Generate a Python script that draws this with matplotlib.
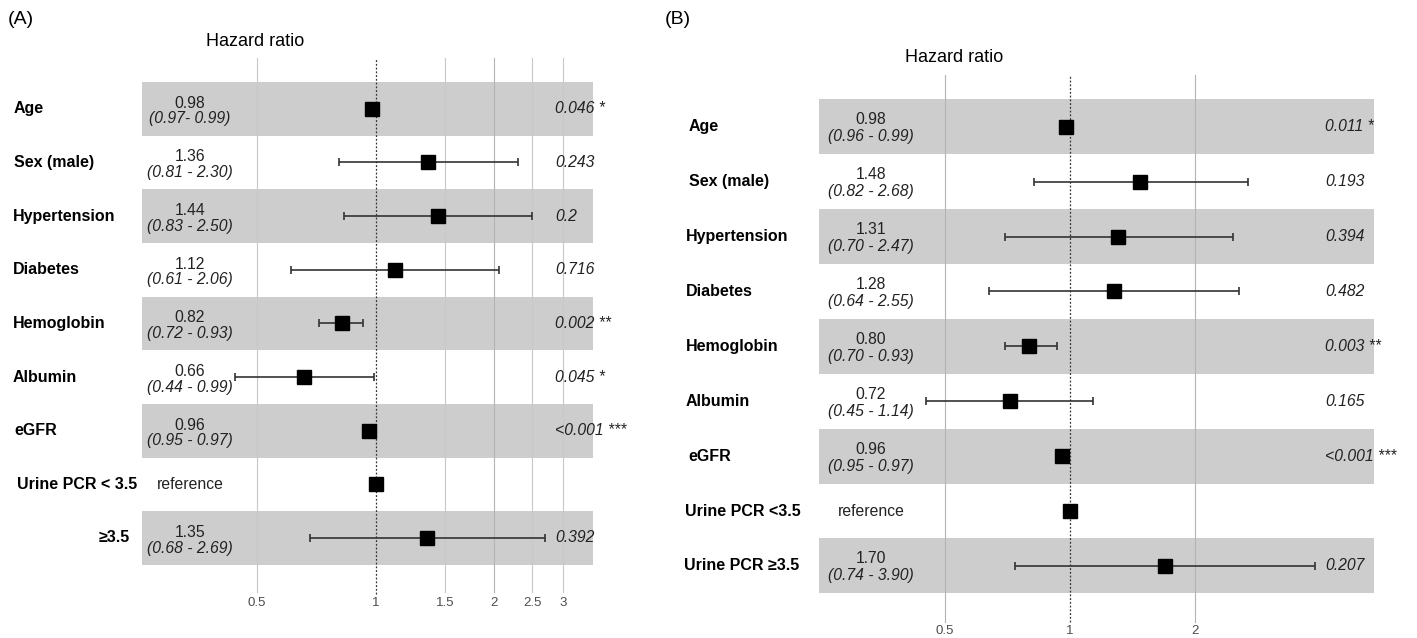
import numpy as np
import matplotlib
matplotlib.use('Agg')
import matplotlib.pyplot as plt

plt.rcParams['font.family'] = ['Liberation Sans', 'DejaVu Sans']

# ==================== data ====================
labels_a = ['Age', 'Sex (male)', 'Hypertension', 'Diabetes', 'Hemoglobin',
            'Albumin', 'eGFR', 'Urine PCR < 3.5', '≥3.5']
hr_a = [0.98, 1.36, 1.44, 1.12, 0.82, 0.66, 0.96, 1.00, 1.35]
lo_a = [0.97, 0.81, 0.83, 0.61, 0.72, 0.44, 0.95, np.nan, 0.68]
hi_a = [0.99, 2.30, 2.50, 2.06, 0.93, 0.99, 0.97, np.nan, 2.69]
ci_a = ['(0.97- 0.99)', '(0.81 - 2.30)', '(0.83 - 2.50)', '(0.61 - 2.06)',
        '(0.72 - 0.93)', '(0.44 - 0.99)', '(0.95 - 0.97)', '', '(0.68 - 2.69)']
p_a = ['0.046 *', '0.243', '0.2', '0.716', '0.002 **', '0.045 *',
       '<0.001 ***', '', '0.392']
ticks_a = [0.5, 1, 1.5, 2, 2.5, 3]

labels_b = ['Age', 'Sex (male)', 'Hypertension', 'Diabetes', 'Hemoglobin',
            'Albumin', 'eGFR', 'Urine PCR <3.5', 'Urine PCR ≥3.5']
hr_b = [0.98, 1.48, 1.31, 1.28, 0.80, 0.72, 0.96, 1.00, 1.70]
lo_b = [0.96, 0.82, 0.70, 0.64, 0.70, 0.45, 0.95, np.nan, 0.74]
hi_b = [0.99, 2.68, 2.47, 2.55, 0.93, 1.14, 0.97, np.nan, 3.90]
ci_b = ['(0.96 - 0.99)', '(0.82 - 2.68)', '(0.70 - 2.47)', '(0.64 - 2.55)',
        '(0.70 - 0.93)', '(0.45 - 1.14)', '(0.95 - 0.97)', '', '(0.74 - 3.90)']
p_b = ['0.011 *', '0.193', '0.394', '0.482', '0.003 **', '0.165',
       '<0.001 ***', '', '0.207']
ticks_b = [0.5, 1, 2]

W, H = 1417, 638
fig = plt.figure(figsize=(W / 100, H / 100), dpi=100)


def forest(cfg, labels, hr, lo, hi, ci, pv, ticks, minor_ticks):
    left, right = cfg['left'], cfg['right']
    ax = fig.add_axes([left / W, 0, (right - left) / W, 1])
    ax.set_xscale('log')
    per_ln = cfg['ln2_px'] / np.log(2)
    ax.set_xlim(np.exp((left - cfg['one_px']) / per_ln),
                np.exp((right - cfg['one_px']) / per_ln))
    r0, pitch = cfg['row0'], cfg['pitch']
    ax.set_ylim((H - r0) / pitch, -r0 / pitch)
    ax.axis('off')

    fx = lambda px: (px - left) / (right - left)
    fy = lambda py: 1 - py / H
    tr = ax.get_yaxis_transform()
    n = len(labels)
    rows = np.arange(n)

    # bandes grises
    for i in range(0, n, 2):
        ax.axhspan(i - 0.5, i + 0.5, xmin=fx(cfg['band'][0]), xmax=fx(cfg['band'][1]),
                   color='#cdcdcd', lw=0, zorder=0)
    # grille
    g0, g1 = fy(cfg['grid'][1]), fy(cfg['grid'][0])
    for t in ticks:
        if t == 1:
            continue
        c = '#c8c8c8' if t in minor_ticks else '#b4b4b4'
        ax.axvline(t, ymin=g0, ymax=g1, color=c, lw=0.8, zorder=1)
    ax.axvline(1, ymin=fy(cfg['dot_end']), ymax=g1, color='#333333',
               lw=0.9, ls=(0, (1.5, 1.5)), zorder=2)

    # HR + IC
    hr = np.array(hr)
    lo = np.array(lo)
    hi = np.array(hi)
    ax.errorbar(hr, rows, xerr=[hr - lo, hi - hr], fmt='none', ecolor='#333333',
                elinewidth=1.2, capsize=2.6, capthick=1.2, zorder=3)
    ax.plot(hr, rows, 's', color='black', ms=cfg['ms'], zorder=4)

    # colonnes de texte
    d_est, d_ci = cfg['est_dy'] / pitch, cfg['ci_dy'] / pitch
    for i in range(n):
        ax.text(fx(cfg['lab_x'][i]), i, labels[i], transform=tr, ha='left',
                va='center', fontsize=11.5, fontweight='bold', color='black')
        if ci[i]:
            ax.text(fx(cfg['est_x']), i + d_est, f'{hr[i]:.2f}', transform=tr,
                    ha='center', va='center', fontsize=11.3, color='#222222')
            ax.text(fx(cfg['est_x']), i + d_ci, ci[i], transform=tr, ha='center',
                    va='center', fontsize=11.3, style='italic', color='#222222')
        else:
            ax.text(fx(cfg['est_x']), i, 'reference', transform=tr, ha='center',
                    va='center', fontsize=11.3, color='#222222')
        if pv[i]:
            ax.text(fx(cfg['p_x']), i, pv[i], transform=tr, ha='left', va='center',
                    fontsize=11.3, style='italic', color='#222222')

    # axe x
    ty = (cfg['tick_y'] - r0) / pitch
    for t in ticks:
        ax.text(t, ty, f'{t:g}', ha='center', va='center', fontsize=9.5,
                color='#4d4d4d')

    fig.text(cfg['tag'][0] / W, fy(cfg['tag'][1]), cfg['tag_txt'], ha='left',
             va='center', fontsize=14)
    fig.text(cfg['title'][0] / W, fy(cfg['title'][1]), 'Hazard ratio',
             ha='center', va='center', fontsize=13)
    return ax


cfg_a = dict(left=0, right=640, one_px=375.5, ln2_px=118.5, row0=108.8, pitch=53.65,
             band=(141.5, 593), grid=(58, 592), dot_end=594, ms=9.5,
             est_x=190, est_dy=-5.5, ci_dy=10, p_x=555,
             lab_x=[14, 14, 13, 13, 13, 13, 14, 17, 99],
             tick_y=603, tag=(8, 20), tag_txt='(A)', title=(255, 42))
cfg_b = dict(left=640, right=1417, one_px=1069.7, ln2_px=125.1, row0=126.7, pitch=54.9,
             band=(818.5, 1374), grid=(75, 622), dot_end=622, ms=10,
             est_x=871, est_dy=-7, ci_dy=10, p_x=1325,
             lab_x=[689, 689, 686, 686, 686, 686, 688, 685, 684],
             tick_y=631, tag=(665, 20), tag_txt='(B)', title=(954, 57))

forest(cfg_a, labels_a, hr_a, lo_a, hi_a, ci_a, p_a, ticks_a, [0.5, 1.5, 2.5, 3])
forest(cfg_b, labels_b, hr_b, lo_b, hi_b, ci_b, p_b, ticks_b, [])

plt.savefig('out.png', dpi=100)
